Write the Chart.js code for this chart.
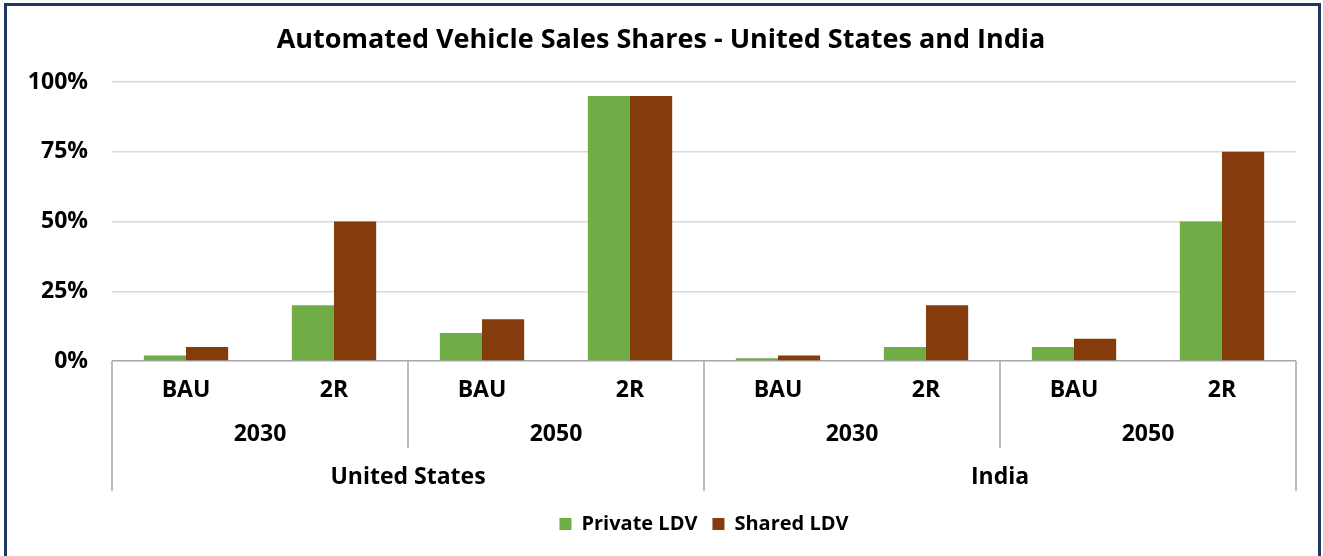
<!DOCTYPE html>
<html>
<head>
<meta charset="utf-8">
<title>Automated Vehicle Sales Shares</title>
<script src="https://cdn.jsdelivr.net/npm/chart.js@4/dist/chart.umd.min.js"></script>
<style>
  html, body { margin: 0; padding: 0; background: #fff; }
  #wrap { position: relative; width: 1323px; height: 556px; overflow: hidden; background: #fff; }
  #chart { position: absolute; left: 0; top: 0; }
  /* dark frame round the chart, bottom edge is cut off in the original */
  #frame {
    position: absolute; left: 4px; top: 3px; width: 1317px; height: 600px;
    border: 3px solid #1f3864; box-sizing: border-box; pointer-events: none;
  }
</style>
</head>
<body>
<div id="wrap">
  <canvas id="chart" width="1323" height="556"></canvas>
  <div id="frame"></div>
</div>
<script>
// chart data
const subLabels = ["BAU", "2R", "BAU", "2R", "BAU", "2R", "BAU", "2R"];
const yearLabels = ["2030", "2050", "2030", "2050"];
const countryLabels = ["United States", "India"];

const privateLDV = [2, 20, 10, 95, 1, 5, 5, 50];
const sharedLDV = [5, 50, 15, 95, 2, 20, 8, 75];

const yMax = 100;
const yStep = 25;

const FONT = "'Open Sans', Lato, sans-serif";
const sepColor = "#a6a6a6";

/**
 * Draws the vertical separators of the multi-level category axis:
 * short ones between years, long ones between countries.
 */
const groupLines = {
  id: "groupLines",
  afterDraw(chart) {
    const { ctx, chartArea, scales } = chart;
    const x = scales.x;
    const n = subLabels.length;
    const half = (x.getPixelForValue(1) - x.getPixelForValue(0)) / 2;
    const perYear = n / yearLabels.length;
    const perCountry = n / countryLabels.length;

    ctx.save();
    ctx.strokeStyle = sepColor;
    ctx.lineWidth = 1.5;
    for (let i = 0; i <= n; i += perYear) {
      const px = i < n ? x.getPixelForValue(i) - half : x.getPixelForValue(n - 1) + half;
      const bottom = i % perCountry === 0 ? scales.x3.top + 43 : scales.x2.bottom;
      ctx.beginPath();
      ctx.moveTo(px, chartArea.bottom);
      ctx.lineTo(px, bottom);
      ctx.stroke();
    }
    ctx.restore();
  }
};

const tickFont = { family: FONT, size: 23, weight: "bold" };

new Chart(document.getElementById("chart"), {
  type: "bar",
  data: {
    labels: subLabels,
    datasets: [
      {
        label: "Private LDV",
        data: privateLDV,
        backgroundColor: "#70ad47",
        categoryPercentage: 0.57,
        barPercentage: 1.0
      },
      {
        label: "Shared LDV",
        data: sharedLDV,
        backgroundColor: "#843c0c",
        categoryPercentage: 0.57,
        barPercentage: 1.0
      }
    ]
  },
  options: {
    responsive: false,
    animation: false,
    layout: {
      // left padding nudges the title right; the y axis keeps the plot at x=112
      padding: { top: 24, right: 27, bottom: 12, left: 26 }
    },
    plugins: {
      title: {
        display: true,
        text: "Automated Vehicle Sales Shares - United States and India",
        color: "#000",
        font: { family: FONT, size: 27, weight: "bold" },
        padding: { top: 0, bottom: 25.6 }
      },
      legend: {
        position: "bottom",
        fullSize: false,
        labels: {
          color: "#000",
          font: { family: FONT, size: 20, weight: "bold" },
          boxWidth: 12,
          boxHeight: 12,
          padding: 15
        }
      },
      tooltip: { enabled: false }
    },
    scales: {
      y: {
        min: 0,
        max: yMax,
        ticks: {
          stepSize: yStep,
          color: "#000",
          font: tickFont,
          padding: 24,
          callback: (v) => v + "%"
        },
        grid: {
          color: (c) => (c.tick && c.tick.value === 0 ? sepColor : "#d9d9d9"),
          lineWidth: 1.5,
          drawTicks: false
        },
        border: { display: false },
        afterFit: (s) => { s.width = 86; }
      },
      x: {
        position: "bottom",
        weight: 0,
        ticks: { color: "#000", font: tickFont, padding: 16, maxRotation: 0 },
        grid: { drawOnChartArea: false, drawTicks: false },
        border: { display: false },
        afterFit: (s) => { s.height = 44; }
      },
      x2: {
        type: "category",
        position: "bottom",
        weight: 1,
        labels: yearLabels,
        offset: true,
        ticks: { color: "#000", font: tickFont, padding: 16, maxRotation: 0 },
        grid: { drawOnChartArea: false, drawTicks: false },
        border: { display: false },
        afterFit: (s) => { s.height = 43; }
      },
      x3: {
        type: "category",
        position: "bottom",
        weight: 2,
        labels: countryLabels,
        offset: true,
        ticks: { color: "#000", font: tickFont, padding: 16, maxRotation: 0 },
        grid: { drawOnChartArea: false, drawTicks: false },
        border: { display: false },
        afterFit: (s) => { s.height = 51; }
      }
    }
  },
  plugins: [groupLines]
});
</script>
</body>
</html>
